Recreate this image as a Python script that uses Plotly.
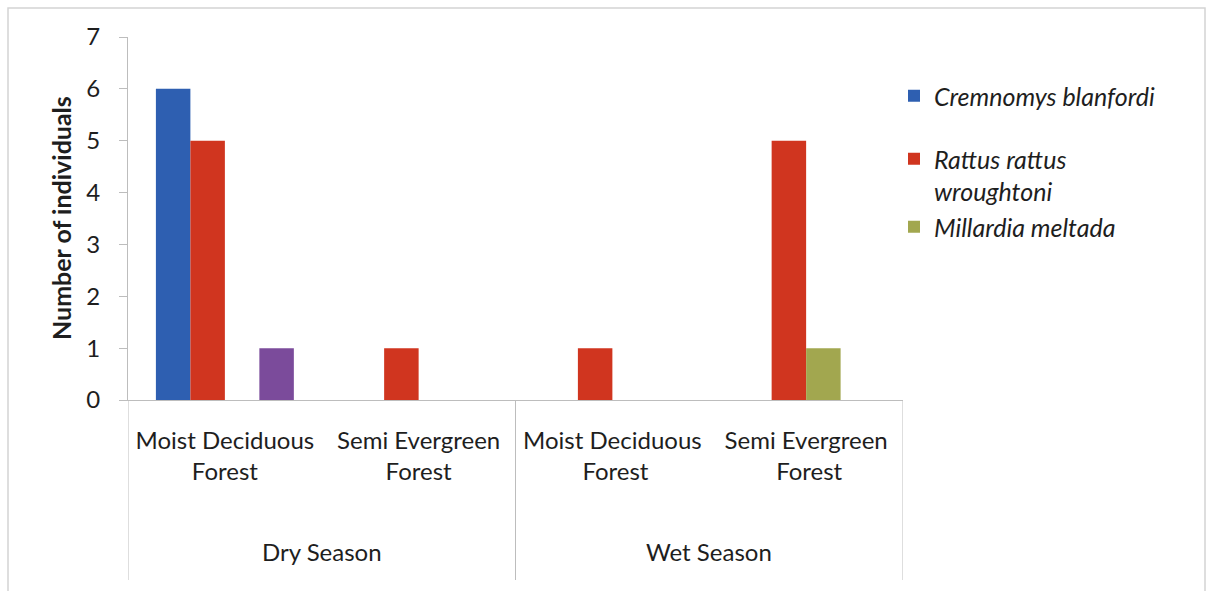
import plotly.graph_objects as go

# Habitat categories (inner level) and seasons (outer level)
habitats = ["Moist Deciduous<br>Forest", "Semi Evergreen<br>Forest",
            "Moist Deciduous<br> Forest", "Semi Evergreen<br> Forest"]
seasons = ["Dry Season", "Wet Season"]

# Number of individuals captured per species
cremnomys = [6, 0, 0, 0]
rattus = [5, 1, 1, 5]
millardia = [0, 0, 0, 1]
other_sp = [1, 0, 0, 0]

species_names = ["<i>Cremnomys blanfordi</i>",
                 "<i>Rattus rattus<br>wroughtoni</i>",
                 "<i>Millardia meltada</i>",
                 "Other"]
colors = ["#2e5fb1", "#d0351f", "#a2a74f", "#7b4b9b"]

FONT = "Lato"
TXT = "#1e1e1e"
AXC = "#bdbdbd"

fig = go.Figure()
series = [cremnomys, rattus, millardia, other_sp]
legends = ["legend", "legend2", "legend2", "legend"]
for i, vals in enumerate(series):
    fig.add_trace(go.Bar(
        x=habitats, y=vals, name=species_names[i],
        marker=dict(color=colors[i], line=dict(width=0)),
        showlegend=(i < 3), legend=legends[i],
    ))

W, H = 1209, 591
L, R, T, B = 128, 306, 37, 191
ph = H - T - B
pw = W - L - R


def py(pix):
    """pixel row -> paper y"""
    return (H - B - pix) / ph


def px(pix):
    return (pix - L) / pw


shapes = []
# outer chart border
shapes.append(dict(type="rect", xref="paper", yref="paper",
                   x0=px(8), x1=px(1205), y0=py(8), y1=py(610),
                   line=dict(color="#d4d4d4", width=1.5)))
# season dividers below the category axis
for xv in [-0.5, 1.5, 3.5]:
    shapes.append(dict(type="line", xref="x", yref="paper",
                       x0=xv, x1=xv, y0=0, y1=py(580),
                       line=dict(color=AXC, width=1)))

annotations = []
for k, s in enumerate(seasons):
    annotations.append(dict(text=s, xref="x", yref="paper", x=0.5 + 2 * k,
                            y=py(551), showarrow=False, yanchor="middle",
                            font=dict(family=FONT, size=24, color=TXT)))
# y-axis title
annotations.append(dict(text="<b>Number of individuals</b>", xref="paper",
                        yref="paper", x=px(61), y=py(218), textangle=-90,
                        showarrow=False, xanchor="center", yanchor="middle",
                        font=dict(family=FONT, size=25, color=TXT)))

fig.update_layout(
    width=W, height=H,
    margin=dict(l=L, r=R, t=T, b=B),
    paper_bgcolor="white", plot_bgcolor="white",
    barmode="group", bargap=0.288, bargroupgap=0,
    font=dict(family=FONT, size=23, color=TXT),
    shapes=shapes, annotations=annotations,
    legend=dict(x=px(894), y=py(73), xanchor="left", yanchor="top",
                font=dict(family=FONT, size=25, color=TXT),
                valign="top", bgcolor="rgba(0,0,0,0)"),
    legend2=dict(x=px(894), y=py(136), xanchor="left", yanchor="top",
                 font=dict(family=FONT, size=25, color=TXT),
                 valign="top", bgcolor="rgba(0,0,0,0)", tracegroupgap=0),
    xaxis=dict(type="category", showline=True, linecolor=AXC, linewidth=1,
               ticks="", showgrid=False, ticklabelstandoff=19,
               tickfont=dict(family=FONT, size=24, color=TXT),
               range=[-0.5, 3.5]),
    yaxis=dict(range=[0, 7], dtick=1, showline=True, linecolor=AXC,
               linewidth=1, ticks="outside", ticklen=8, tickcolor=AXC,
               showgrid=False, zeroline=False, ticklabelstandoff=14,
               tickfont=dict(family=FONT, size=24, color=TXT)),
)

fig.write_html("out.html")
